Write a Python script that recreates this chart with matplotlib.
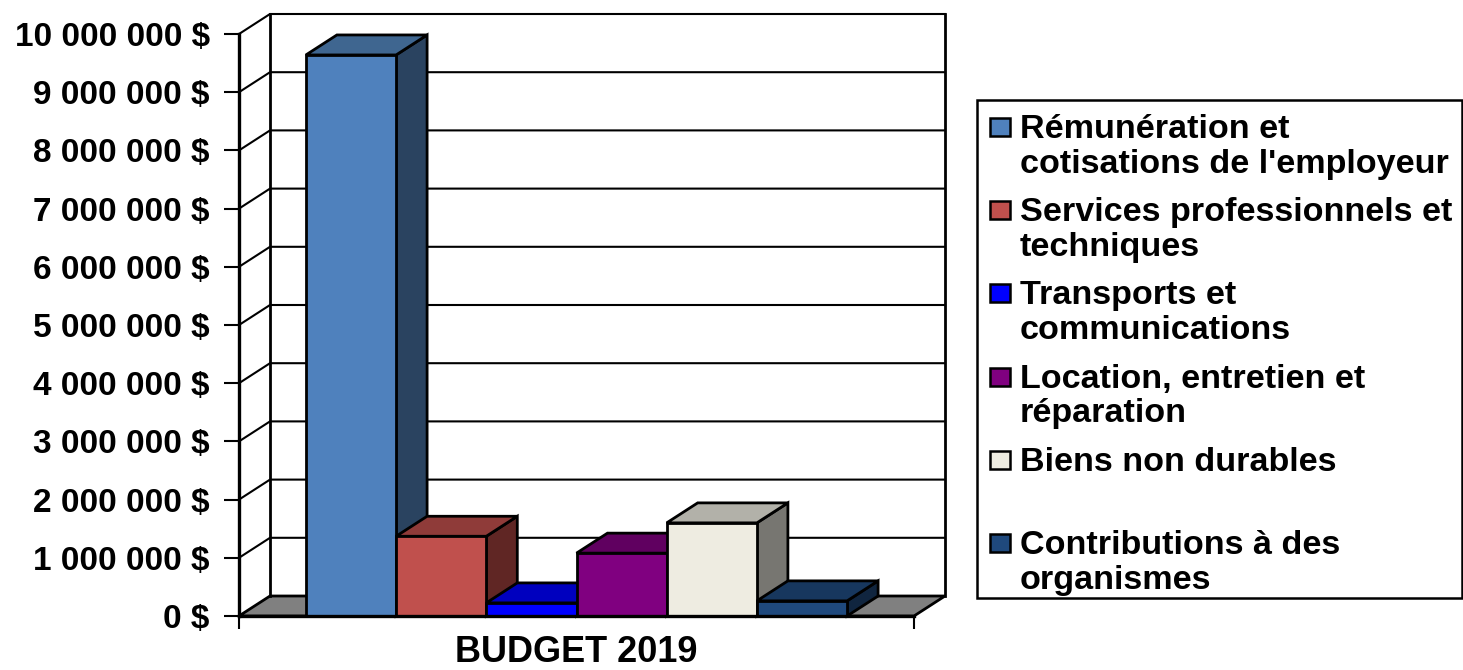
import matplotlib
matplotlib.use("Agg")
import matplotlib.pyplot as plt
from matplotlib.patches import Polygon, Rectangle

plt.rcParams['font.family'] = ['Liberation Sans', 'DejaVu Sans']
plt.rcParams['font.weight'] = 'bold'

categories = ["Rémunération et\ncotisations de l'employeur",
              "Services professionnels et\ntechniques",
              "Transports et\ncommunications",
              "Location, entretien et\nréparation",
              "Biens non durables",
              "Contributions à des\norganismes"]
values = [9640000, 1370000, 225000, 1080000, 1600000, 260000]
tick_values = [0, 1000000, 2000000, 3000000, 4000000, 5000000,
               6000000, 7000000, 8000000, 9000000, 10000000]
tick_labels = ["0 $", "1 000 000 $", "2 000 000 $", "3 000 000 $", "4 000 000 $",
               "5 000 000 $", "6 000 000 $", "7 000 000 $", "8 000 000 $",
               "9 000 000 $", "10 000 000 $"]
group_label = "BUDGET 2019"
front_colors = ["#4F81BD", "#C0504D", "#0000FF", "#800080", "#EEECE1", "#1F497D"]
top_colors = ["#3F6690", "#8F3B39", "#0000BF", "#600060", "#B2B1A9", "#17375E"]
side_colors = ["#2A4360", "#602624", "#000080", "#400040", "#777671", "#10253F"]

W, H = 1463, 670
fig = plt.figure(figsize=(W / 100, H / 100), dpi=100, facecolor="white")

# front plane of the 3D box, in pixels
L, R, B, T = 239, 914, 616, 34
ax = fig.add_axes([L / W, 1 - B / H, (R - L) / W, (B - T) / H])
bar_px = 90.2
half = (R - L) / bar_px / 2
ax.set_xlim(3 - half, 3 + half)
ax.set_ylim(0, 10000000)
x0, x1 = ax.get_xlim()
dx = 31 / bar_px                      # depth along x, in bar widths
dy = 20 * 10000000 / (B - T)          # depth along y, in value units
lw_thin = 1.5
lw_bar = 2.0

# floor
ax.add_patch(Polygon([(x0, 0), (x1, 0), (x1 + dx, dy), (x0 + dx, dy)], closed=True,
                     facecolor="#808080", edgecolor="black", lw=lw_bar, clip_on=False, zorder=1))
# walls
for v in tick_values[1:]:
    ax.plot([x0, x0 + dx, x1 + dx], [v, v + dy, v + dy], color="black", lw=lw_thin,
            clip_on=False, zorder=1, solid_joinstyle="miter")
ax.plot([x0 + dx, x0 + dx], [dy, 10000000 + dy], color="black", lw=lw_bar, clip_on=False, zorder=1)
ax.plot([x1 + dx, x1 + dx], [dy, 10000000 + dy], color="black", lw=lw_bar, clip_on=False, zorder=1)

# bars
for i, v in enumerate(values):
    a, b = i, i + 1
    z = 3 + i * 0.01
    kw = dict(closed=True, edgecolor="black", lw=lw_bar, clip_on=False, zorder=z, joinstyle="miter")
    ax.add_patch(Polygon([(b, 0), (b + dx, dy), (b + dx, v + dy), (b, v)], facecolor=side_colors[i], **kw))
    ax.add_patch(Polygon([(a, v), (b, v), (b + dx, v + dy), (a + dx, v + dy)], facecolor=top_colors[i], **kw))
    ax.add_patch(Polygon([(a, 0), (b, 0), (b, v), (a, v)], facecolor=front_colors[i], **kw))

# axes
ax.patch.set_visible(False)
for s in ("top", "right"):
    ax.spines[s].set_visible(False)
ax.spines["left"].set_linewidth(2.4)
ax.spines["bottom"].set_linewidth(2.4)
ax.spines["left"].set_zorder(5)
ax.spines["bottom"].set_zorder(5)
ax.set_yticks(tick_values)
ax.set_yticklabels(tick_labels, fontsize=24, fontweight="bold")
ax.tick_params(axis="y", length=10.5, width=1.5, pad=10.5)
ax.set_xticks([x0, x1])
ax.set_xticklabels(["", ""])
ax.tick_params(axis="x", length=9, width=1.5, pad=0)
ax.text(3, (B - 662) / (B - T), group_label, fontsize=26, fontweight="bold", ha="center", va="baseline",
        transform=ax.get_xaxis_transform(), clip_on=False)

# legend panel, laid out in pixels
lg = fig.add_axes([0, 0, 1, 1], zorder=10)
lg.set_xlim(0, W)
lg.set_ylim(H, 0)
lg.axis("off")
lg.patch.set_visible(False)
lg.add_patch(Rectangle((977, 100), 485, 498, facecolor="white", edgecolor="black", lw=1.8))
for i, label in enumerate(categories):
    y = 127 + i * 83.2
    lg.add_patch(Rectangle((990, y - 9), 20, 18, facecolor=front_colors[i], edgecolor="black", lw=1.8))
    lg.text(1020, y - 13, label, fontsize=24.6, fontweight="bold", ha="left", va="top",
            linespacing=1.15)

fig.savefig("out.png", dpi=100, facecolor="white")
